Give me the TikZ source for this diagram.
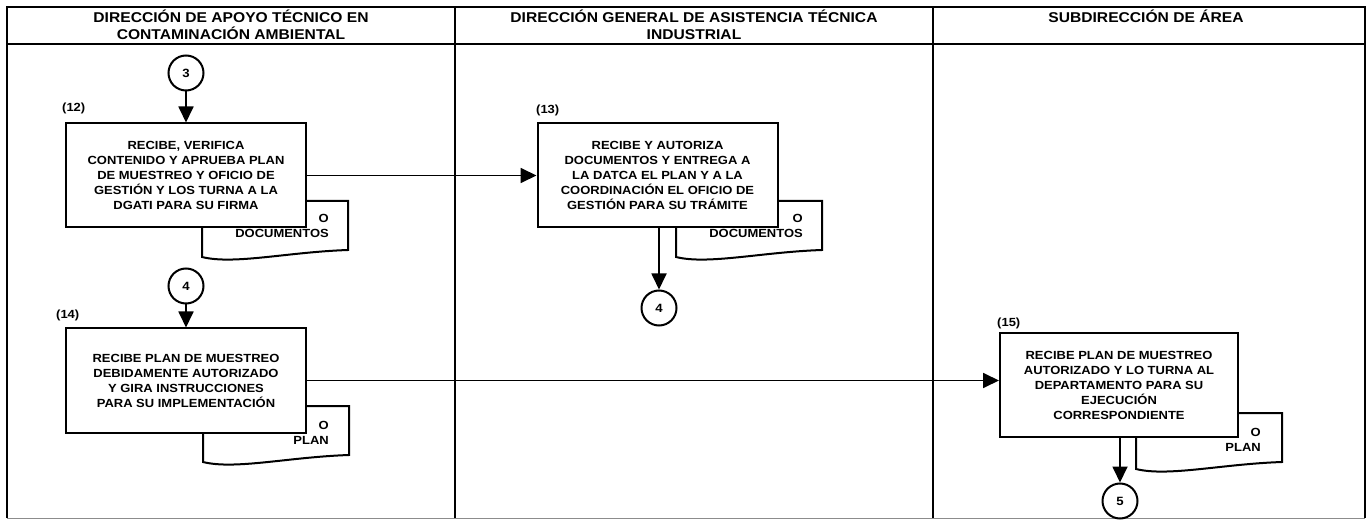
\documentclass[tikz,border=0pt]{standalone}
\usepackage{fontspec}
\setmainfont{Liberation Sans}[FakeStretch=1.1]
\usepackage{tikz}
\usetikzlibrary{positioning,arrows.meta,calc}

% document sheet with a wavy lower edge, drawn behind its box
\newcommand{\docsheet}[2]{%
  \filldraw[sheet] (#1,#2) -- ++(146,0) -- ++(0,49)
    .. controls ++(-60,2) and ++(32,8) .. ++(-146,7) -- cycle;}

\begin{document}
\begin{tikzpicture}[x=1pt, y=-1pt,
    lane/.style={draw=black, line width=1.8pt},
    header/.style={font=\bfseries\fontsize{14.2}{16.5}\selectfont, align=center, anchor=north, inner sep=0pt},
    stepbox/.style={draw=black, fill=white, line width=2pt, minimum width=240pt, minimum height=104pt,
      align=center, inner sep=2pt, font=\bfseries\fontsize{11.8}{15}\selectfont},
    stepnum/.style={font=\bfseries\fontsize{11.8}{13}\selectfont, anchor=west, inner sep=0pt},
    link/.style={circle, draw=black, fill=white, line width=2pt, minimum size=35pt, inner sep=0pt,
      font=\bfseries\fontsize{12}{13}\selectfont},
    sheet/.style={draw=black, fill=white, line width=2pt},
    sheettext/.style={font=\bfseries\fontsize{11.8}{15}\selectfont, align=right, anchor=east, inner sep=0pt},
    flow/.style={draw=black, line width=1.8pt, -{Triangle[length=16pt, width=15pt]}}]
  \useasboundingbox (0,0) rectangle (1371,521);

  % swimlanes
  \draw[lane] (7,518) -- (7,7) -- (1365,7) -- (1365,518);
  \draw[lane] (7,44) -- (1365,44);
  \draw[lane] (455,7) -- (455,518);
  \draw[lane] (933,7) -- (933,518);
  \draw[black!45, line width=0.8pt] (7,518) -- (1365,518);
  \node[header] (lane1) at (231,10) {DIRECCIÓN DE APOYO TÉCNICO EN\\CONTAMINACIÓN AMBIENTAL};
  \node[header] (lane2) at (694,10) {DIRECCIÓN GENERAL DE ASISTENCIA TÉCNICA\\INDUSTRIAL};
  \node[header] (lane3) at (1146,10) {SUBDIRECCIÓN DE ÁREA};

  % document sheets
  \docsheet{202}{201}
  \docsheet{676}{201}
  \docsheet{203}{406}
  \docsheet{1136}{413}
  \node[sheettext] (d12) at (329,225.5) {O\\DOCUMENTOS};
  \node[sheettext] (d13) at (803,225.5) {O\\DOCUMENTOS};
  \node[sheettext] (d14) at (329,432.5) {O\\PLAN};
  \node[sheettext] (d15) at (1261,439.5) {O\\PLAN};

  % steps
  \node[stepbox] (b12) at (186,175.5) {RECIBE, VERIFICA\\CONTENIDO Y APRUEBA PLAN\\DE MUESTREO Y OFICIO DE\\GESTIÓN Y LOS TURNA A LA\\DGATI PARA SU FIRMA};
  \node[stepbox] (b13) at (657.5,175.5) {RECIBE Y AUTORIZA\\DOCUMENTOS Y ENTREGA A\\LA DATCA EL PLAN Y A LA\\COORDINACIÓN EL OFICIO DE\\GESTIÓN PARA SU TRÁMITE};
  \node[stepbox] (b14) at (186,380.5) {RECIBE PLAN DE MUESTREO\\DEBIDAMENTE AUTORIZADO\\Y GIRA INSTRUCCIONES\\PARA SU IMPLEMENTACIÓN};
  \node[stepbox, minimum width=238pt] (b15) at (1119,385) {RECIBE PLAN DE MUESTREO\\AUTORIZADO Y LO TURNA AL\\DEPARTAMENTO PARA SU\\EJECUCIÓN\\CORRESPONDIENTE};
  \node[stepnum] (n12) at (62,108) {(12)};
  \node[stepnum] (n13) at (536,110) {(13)};
  \node[stepnum] (n14) at (56,315) {(14)};
  \node[stepnum] (n15) at (997,323) {(15)};

  % connectors
  \node[link] (c3) at (186,73) {3};
  \node[link] (c4a) at (186,286) {4};
  \node[link] (c4b) at (659,308) {4};
  \node[link] (c5) at (1120,501) {5};
  \draw[flow] (c3) -- (b12);
  \draw[flow] (b12) -- (b13);
  \draw[flow] (b13.south -| c4b) -- (c4b);
  \draw[flow] (c4a) -- (b14);
  \draw[flow] (b14.east) -- (b14.east -| b15.west);
  \draw[flow] (b15.south -| c5) -- (c5);
\end{tikzpicture}
\end{document}
